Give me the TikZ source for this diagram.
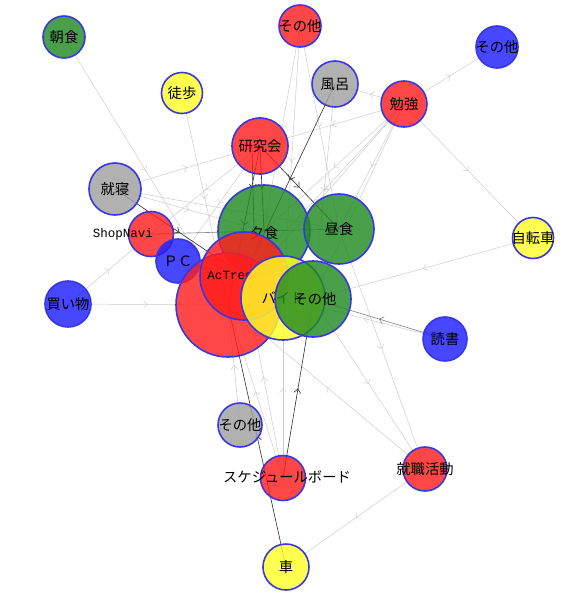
\documentclass[tikz,border=0pt]{standalone}
\usepackage{fontspec}
\setmainfont{Noto Sans CJK JP}
\newfontfamily\monof{Liberation Mono}
\usetikzlibrary{arrows.meta,decorations.markings}
\definecolor{vred}{RGB}{255,30,30}
\definecolor{vgreen}{RGB}{34,139,34}
\definecolor{vblue}{RGB}{30,30,255}
\definecolor{vgray}{RGB}{160,160,160}
\definecolor{vyellow}{RGB}{255,255,40}
\definecolor{vborder}{RGB}{55,55,230}
\definecolor{elight}{RGB}{205,205,205}
\definecolor{emid}{RGB}{130,130,130}
\definecolor{edark}{RGB}{45,45,45}
\tikzset{
  vtx/.style={circle, draw=vborder, line width=1.6pt, inner sep=0pt, fill opacity=0.82, minimum size=#1},
  lbl/.style={inner sep=0pt, font=\fontsize{14.3}{15}\selectfont, text=black},
  mlbl/.style={inner sep=0pt, font=\monof\fontsize{12.5}{13}\selectfont, text=black},
  arrowmid/.style={postaction={decorate}, decoration={markings, mark=at position 0.5 with {\arrow{Straight Barb[length=4pt,width=7pt]}}}},
  el/.style={draw=elight, line width=0.5pt, arrowmid},
  em/.style={draw=emid, line width=0.6pt, arrowmid},
  ed/.style={draw=edark, line width=0.6pt, arrowmid}
}
\begin{document}
\begin{tikzpicture}[x=1pt,y=-1pt]
\useasboundingbox (0,0) rectangle (588,599);
% node coordinates
\coordinate (A) at (64,37);
\coordinate (B) at (300,26);
\coordinate (C) at (497,47);
\coordinate (D) at (182,93);
\coordinate (E) at (335,84);
\coordinate (F) at (404,104);
\coordinate (G) at (260,146);
\coordinate (H) at (115,189);
\coordinate (I) at (151,234);
\coordinate (J) at (264,231);
\coordinate (K) at (339,229);
\coordinate (L) at (178,261);
\coordinate (M) at (228,305);
\coordinate (N) at (244,276);
\coordinate (O) at (283,298);
\coordinate (P) at (313,299);
\coordinate (Q) at (533,238);
\coordinate (R) at (68,304);
\coordinate (S) at (445,339);
\coordinate (T) at (240,425);
\coordinate (U) at (283,478);
\coordinate (V) at (425,469);
\coordinate (W) at (286,567);
% light edges
\draw[el] (A) -- (M);
\draw[el] (D) -- (M);
\draw[el] (H) -- (G);
\draw[el] (H) -- (J);
\draw[el] (H) -- (K);
\draw[el] (B) -- (J);
\draw[el] (B) -- (K);
\draw[el] (B) -- (O);
\draw[el] (F) -- (E);
\draw[el] (F) -- (C);
\draw[el] (F) -- (Q);
\draw[el] (F) -- (G);
\draw[el] (F) -- (J);
\draw[el] (F) -- (K);
\draw[el] (F) -- (P);
\draw[el] (F) -- (M);
\draw[el] (F) -- (N);
\draw[el] (Q) -- (P);
\draw[el] (R) -- (M);
\draw[el] (R) -- (I);
\draw[el] (S) -- (O);
\draw[el] (T) -- (M);
\draw[el] (U) -- (M);
\draw[el] (U) -- (N);
\draw[el] (U) -- (O);
\draw[el] (V) -- (M);
\draw[el] (P) -- (V);
\draw[el] (K) -- (V);
\draw[el] (V) -- (W);
\draw[el] (L) -- (J);
\draw[el] (G) -- (L);
\draw[el] (G) -- (I);
\draw[el] (E) -- (P);
% darker edges
\draw[em] (I) -- (K);
\draw[em] (S) -- (P);
\draw[ed] (U) -- (P);
\draw[ed] (G) -- (J);
\draw[ed] ([xshift=-8pt]G) -- ([xshift=-10pt]J);
\draw[ed] (G) -- (K);
\draw[ed] (G) -- (M);
\draw[ed] (H) -- (N);
\draw[ed] (E) -- (N);
\draw[ed] (W) -- (M);
% vertices and labels
\node[vtx=42pt, fill=vgreen] (nA) at (A) {};
\node[lbl] (lA) at (A) {朝食};
\node[vtx=42pt, fill=vred] (nB) at (B) {};
\node[lbl] (lB) at (B) {その他};
\node[vtx=42pt, fill=vblue] (nC) at (C) {};
\node[lbl] (lC) at (C) {その他};
\node[vtx=41pt, fill=vyellow] (nD) at (D) {};
\node[lbl] (lD) at (D) {徒歩};
\node[vtx=46pt, fill=vgray] (nE) at (E) {};
\node[lbl] (lE) at (E) {風呂};
\node[vtx=46pt, fill=vred] (nF) at (F) {};
\node[lbl] (lF) at (F) {勉強};
\node[vtx=56pt, fill=vred] (nG) at (G) {};
\node[lbl] (lG) at (G) {研究会};
\node[vtx=52pt, fill=vgray] (nH) at (H) {};
\node[lbl] (lH) at (H) {就寝};
\node[vtx=45pt, fill=vred] (nI) at (I) {};
\node[mlbl] (lI) at (123,234) {ShopNavi};
\node[vtx=44pt, fill=vblue] (nL) at (L) {};
\node[lbl] (lL) at (L) {ＰＣ};
\node[vtx=92pt, fill=vgreen] (nJ) at (J) {};
\node[lbl] (lJ) at (264,233) {夕食};
\node[vtx=104pt, fill=vred] (nM) at (M) {};
\node[vtx=88pt, fill=vred] (nN) at (N) {};
\node[mlbl] (lN) at (230,275) {AcTree};
\node[vtx=70pt, fill=vgreen] (nK) at (K) {};
\node[lbl] (lK) at (K) {昼食};
\node[vtx=84pt, fill=vyellow] (nO) at (O) {};
\node[lbl] (lO) at (O) {バイト};
\node[vtx=76pt, fill=vgreen] (nP) at (P) {};
\node[lbl] (lP) at (315,299) {その他};
\node[vtx=41pt, fill=vyellow] (nQ) at (Q) {};
\node[lbl] (lQ) at (Q) {自転車};
\node[vtx=46pt, fill=vblue] (nR) at (R) {};
\node[lbl] (lR) at (R) {買い物};
\node[vtx=44pt, fill=vblue] (nS) at (S) {};
\node[lbl] (lS) at (S) {読書};
\node[vtx=44pt, fill=vgray] (nT) at (T) {};
\node[lbl] (lT) at (T) {その他};
\node[vtx=45pt, fill=vred] (nU) at (U) {};
\node[lbl] (lU) at (287,477) {スケジュールボード};
\node[vtx=44pt, fill=vred] (nV) at (V) {};
\node[lbl] (lV) at (V) {就職活動};
\node[vtx=46pt, fill=vyellow] (nW) at (W) {};
\node[lbl] (lW) at (W) {車};
\end{tikzpicture}
\end{document}
